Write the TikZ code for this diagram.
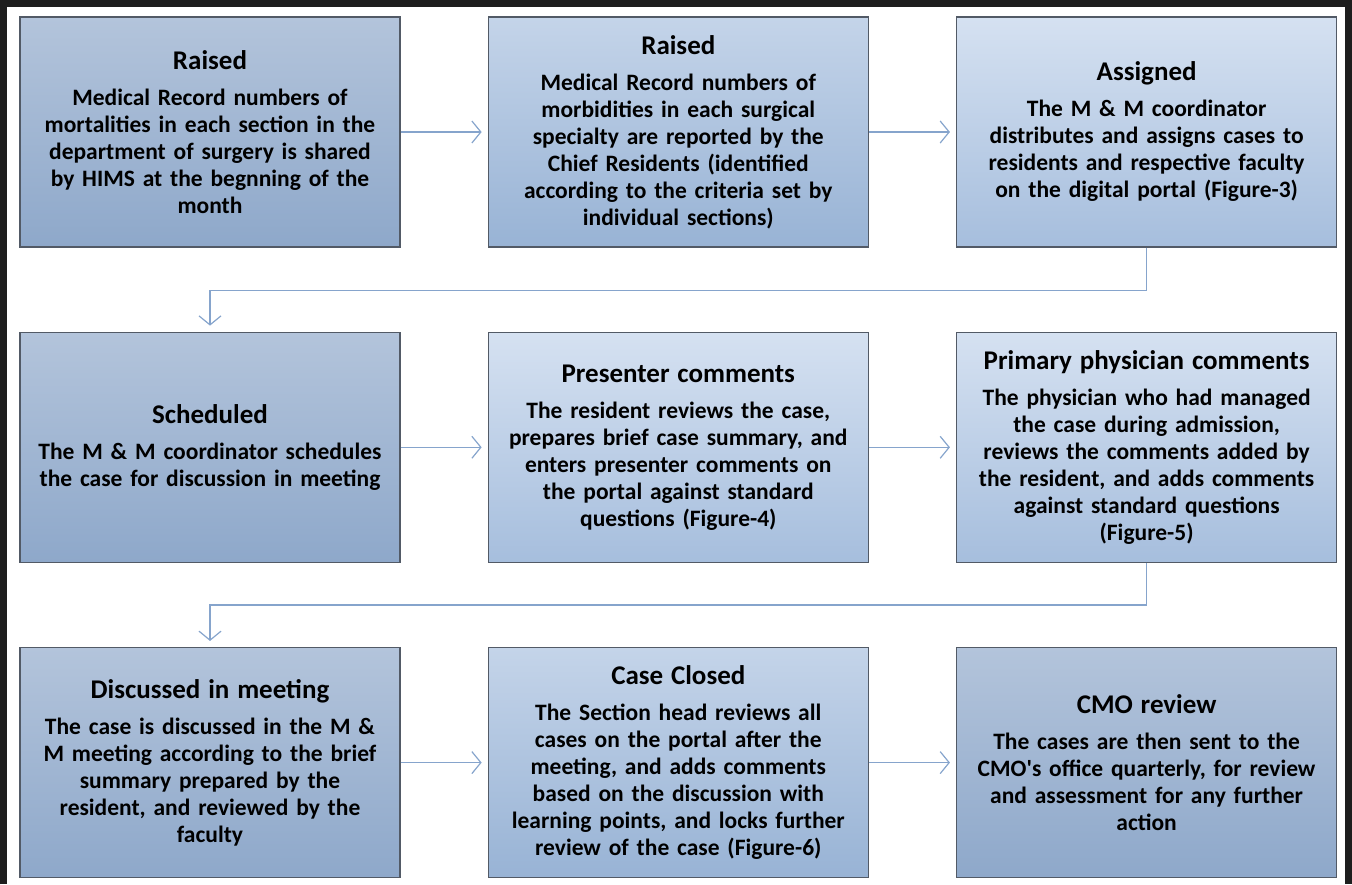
\documentclass[tikz,border=0pt]{standalone}
\usepackage{fontspec}
\setmainfont{Carlito}
\usetikzlibrary{arrows.meta,positioning}

\newcommand{\phase}[1]{{\fontsize{27}{30}\selectfont #1}\\[9pt]}

\begin{document}
\begin{tikzpicture}[x=1pt, y=-1pt, node distance=84pt and 87pt,
    stage/.style={draw=stageLine, line width=1.3pt, inner sep=0pt,
        minimum width=380pt, minimum height=230pt, text width=374pt,
        align=center, font=\bfseries\fontsize{23.5}{27}\selectfont},
    darkstage/.style={stage, top color=darkTop, bottom color=darkBottom},
    midstage/.style={stage, top color=midTop, bottom color=midBottom},
    lightstage/.style={stage, top color=lightTop, bottom color=lightBottom},
    flow/.style={flowLine, line width=1.2pt, shorten >=6pt,
        -{Straight Barb[length=9pt, width=22pt, line width=1.2pt]}}]
    % Farben
    \definecolor{stageLine}{HTML}{525A66}
    \definecolor{darkTop}{HTML}{B3C4DB}
    \definecolor{darkBottom}{HTML}{8EA8CA}
    \definecolor{midTop}{HTML}{C4D4E9}
    \definecolor{midBottom}{HTML}{98B3D5}
    \definecolor{lightTop}{HTML}{D5E1F1}
    \definecolor{lightBottom}{HTML}{A6BEDD}
    \definecolor{flowLine}{HTML}{86A4CC}
    \definecolor{frameLine}{HTML}{1E1E1E}

    \useasboundingbox (0,0) rectangle (1352,884);
    % Rahmen
    \draw[frameLine, line width=7pt] (3.5,884) -- (3.5,3.5) -- (1348.5,3.5) -- (1348.5,884);

    % erste Reihe
    \node[darkstage] (raisedMort) at (210,132) {\phase{Raised}
        Medical Record numbers of\\ mortalities in each section in the\\
        department of surgery is shared\\ by HIMS at the begnning of the\\ month};
    \node[midstage, right=of raisedMort] (raisedMorb) {\phase{Raised}
        Medical Record numbers of\\ morbidities in each surgical\\
        specialty are reported by the\\ Chief Residents (identified\\
        according to the criteria set by\\ individual sections)};
    \node[lightstage, right=of raisedMorb] (assigned) {\phase{Assigned}
        The M \& M coordinator\\ distributes and assigns cases to\\
        residents and respective faculty\\ on the digital portal (Figure-3)};

    % zweite Reihe
    \node[darkstage, below=of raisedMort] (scheduled) {\phase{Scheduled}
        The M \& M coordinator schedules\\ the case for discussion in meeting};
    \node[lightstage, right=of scheduled] (presenter) {\phase{Presenter comments}
        The resident reviews the case,\\ prepares brief case summary, and\\
        enters presenter comments on\\ the portal against standard\\ questions (Figure-4)};
    \node[lightstage, right=of presenter] (primary) {\phase{Primary physician comments}
        The physician who had managed\\ the case during admission,\\
        reviews the comments added by\\ the resident, and adds comments\\
        against standard questions\\ (Figure-5)};

    % dritte Reihe
    \node[darkstage, below=of scheduled] (discussed) {\phase{Discussed in meeting}
        The case is discussed in the M \&\\ M meeting according to the brief\\
        summary prepared by the\\ resident, and reviewed by the\\ faculty};
    \node[midstage, right=of discussed] (closed) {\phase{Case Closed}
        The Section head reviews all\\ cases on the portal after the\\
        meeting, and adds comments\\ based on the discussion with\\
        learning points, and locks further\\ review of the case (Figure-6)};
    \node[darkstage, right=of closed] (cmo) {\phase{CMO review}
        The cases are then sent to the\\ CMO\textquotesingle s office quarterly, for review\\
        and assessment for any further\\ action};

    % Pfeile
    \draw[flow] (raisedMort) -- (raisedMorb);
    \draw[flow] (raisedMorb) -- (assigned);
    \draw[flow] (assigned.south) -- ++(0,43) -| (scheduled.north);
    \draw[flow] (scheduled) -- (presenter);
    \draw[flow] (presenter) -- (primary);
    \draw[flow] (primary.south) -- ++(0,42) -| (discussed.north);
    \draw[flow] (discussed) -- (closed);
    \draw[flow] (closed) -- (cmo);
\end{tikzpicture}
\end{document}
